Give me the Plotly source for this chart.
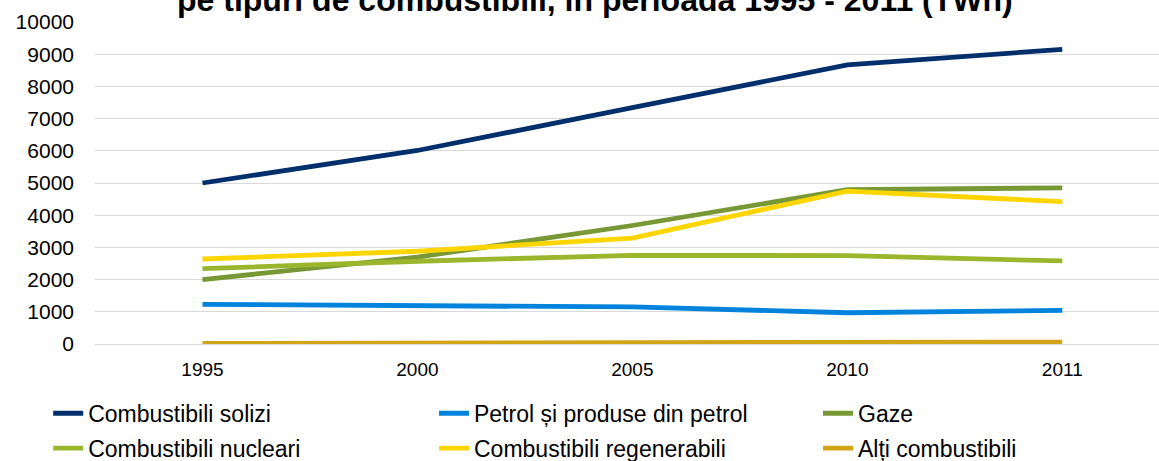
import plotly.graph_objects as go

ani = ['1995', '2000', '2005', '2010', '2011']

solizi = [5000, 6010, 7340, 8670, 9150]
petrol = [1230, 1200, 1150, 970, 1045]
gaze = [2000, 2700, 3680, 4790, 4850]
nucleari = [2340, 2570, 2755, 2745, 2580]
regenerabili = [2640, 2880, 3290, 4750, 4420]
altii = [20, 30, 40, 60, 60]

# nume, valori, culoare, legenda (coloana)
serii = [
    ('Combustibili solizi', solizi, '#002F6C', 'legend'),
    ('Petrol și produse din petrol', petrol, '#0083DD', 'legend2'),
    ('Gaze', gaze, '#779834', 'legend3'),
    ('Combustibili nucleari', nucleari, '#9BB52C', 'legend'),
    ('Combustibili regenerabili', regenerabili, '#FFD500', 'legend2'),
    ('Alți combustibili', altii, '#D2A517', 'legend3'),
]

fig = go.Figure()
for nume, val, culoare, leg in serii:
    fig.add_trace(go.Scatter(x=ani, y=val, name=nume, mode='lines', legend=leg,
                             legendgroup=nume,
                             line=dict(color=culoare, width=4.8)))

leg_stil = dict(orientation='v', y=-0.1485, xanchor='left', yanchor='top',
                traceorder='grouped', tracegroupgap=2,
                font=dict(size=23), bgcolor='rgba(0,0,0,0)')

fig.update_layout(
    width=1159, height=461,
    margin=dict(l=95, r=0, t=22, b=117, autoexpand=False),
    paper_bgcolor='white', plot_bgcolor='white',
    font=dict(family='Liberation Sans, Arial', color='black'),
    showlegend=True,
    legend=dict(x=-0.044, **leg_stil),
    legend2=dict(x=0.3186, **leg_stil),
    legend3=dict(x=0.6795, **leg_stil),
)
fig.update_xaxes(type='category', range=[-0.5, 4.45], showgrid=False,
                 showline=False, ticks='', tickfont=dict(size=19),
                 ticklabelstandoff=12)
fig.update_yaxes(range=[0, 10000], dtick=1000, tickformat='d', showgrid=True,
                 gridcolor='#D9D9D9', gridwidth=1.3, zeroline=True,
                 zerolinecolor='#D9D9D9', zerolinewidth=1.3,
                 ticks='', tickfont=dict(size=21), ticklabelstandoff=20)

# titlul, partea de sus taiata ca in original
fig.add_annotation(text='<b>pe tipuri de combustibili, în perioada 1995 - 2011 (TWh)</b>',
                   xref='paper', yref='paper', x=0.47, y=1.0, yanchor='bottom',
                   yshift=2, showarrow=False, font=dict(size=32))

fig.write_html('out.html', config={'displayModeBar': False},
               post_script="document.body.style.margin='0';")
